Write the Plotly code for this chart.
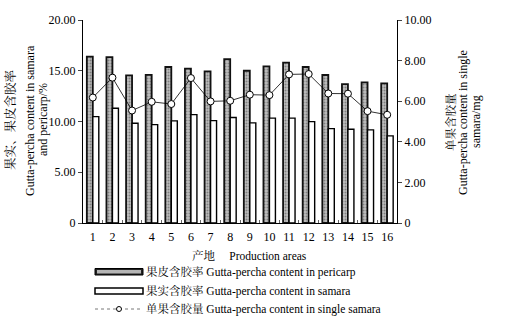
import plotly.graph_objects as go

areas = [str(i) for i in range(1, 17)]
pericarp = [16.40, 16.35, 14.55, 14.60, 15.37, 15.20, 14.93, 16.15, 15.00, 15.43, 15.80, 15.37, 14.58, 13.69, 13.85, 13.75]
samara = [10.48, 11.30, 9.83, 9.69, 10.06, 10.68, 10.09, 10.39, 9.86, 10.33, 10.33, 9.99, 9.30, 9.24, 9.17, 8.58]
single = [6.18, 7.16, 5.54, 5.97, 5.86, 7.14, 5.99, 6.02, 6.32, 6.30, 7.32, 7.34, 6.38, 6.37, 5.51, 5.33]

left_ticks = [0, 5, 10, 15, 20]
left_ticktext = ["0", "5.00", "10.00", "15.00", "20.00"]
right_ticks = [0, 2, 4, 6, 8, 10]
right_ticktext = ["0", "2.00", "4.00", "6.00", "8.00", "10.00"]

legend_labels = ["果皮含胶率 Gutta-percha content in pericarp",
                 "果实含胶率 Gutta-percha content in samara",
                 "单果含胶量 Gutta-percha content in single samara"]

FONT = "Liberation Serif, Noto Serif CJK SC, Noto Sans CJK SC, serif"
L, R, T, B, W, H = 83, 111, 20, 105, 508, 328
PW, PH = W - L - R, H - T - B

def px(x):
    return (x - L) / PW

def py(y):
    return (H - B - y) / PH

fig = go.Figure()
fig.add_trace(go.Bar(x=areas, y=pericarp, name=legend_labels[0],
                     marker=dict(color="#bdbdbd", line=dict(color="#111111", width=1.8),
                                 pattern=dict(shape=".", fgcolor="#444444", size=3, solidity=0.35)),
                     showlegend=False))
fig.add_trace(go.Bar(x=areas, y=samara, name=legend_labels[1],
                     marker=dict(color="white", line=dict(color="black", width=1.4)),
                     showlegend=False))
fig.add_trace(go.Scatter(x=areas, y=single, name=legend_labels[2], yaxis="y2",
                         mode="lines+markers",
                         line=dict(color="black", width=0.8),
                         marker=dict(symbol="circle", size=7, color="white",
                                     line=dict(color="black", width=1)),
                         showlegend=False))

shapes = []
annotations = []
# legend
rows = [272, 291, 309]
shapes.append(dict(type="rect", xref="paper", yref="paper", x0=px(95), x1=px(143),
                   y0=py(275), y1=py(268.5), fillcolor="#222222", line=dict(color="black", width=1)))
shapes.append(dict(type="rect", xref="paper", yref="paper", x0=px(97), x1=px(141),
                   y0=py(273.5), y1=py(270), fillcolor="#b5b5b5", line=dict(width=0)))
shapes.append(dict(type="rect", xref="paper", yref="paper", x0=px(95), x1=px(143),
                   y0=py(294), y1=py(288), fillcolor="white", line=dict(color="black", width=1.5)))
shapes.append(dict(type="line", xref="paper", yref="paper", x0=px(95), x1=px(143),
                   y0=py(309), y1=py(309), line=dict(color="#555555", width=0.8, dash="dot")))
shapes.append(dict(type="circle", xref="paper", yref="paper", x0=px(116.5), x1=px(121.5),
                   y0=py(311.5), y1=py(306.5), fillcolor="white", line=dict(color="black", width=1)))
for r, lab in zip(rows, legend_labels):
    annotations.append(dict(text=lab, xref="paper", yref="paper", x=px(144), y=py(r),
                            xanchor="left", yanchor="middle", showarrow=False,
                            font=dict(family=FONT, size=11.5, color="black")))

annotations.append(dict(text="产地     Production areas", xref="paper", yref="paper",
                        x=px(249), y=py(255), xanchor="center", yanchor="middle", showarrow=False,
                        font=dict(family=FONT, size=11.5, color="black")))

def vtext(text, x, y, size):
    annotations.append(dict(text=text, xref="paper", yref="paper", x=px(x), y=py(y),
                            textangle=-90, xanchor="center", yanchor="middle", showarrow=False,
                            font=dict(family=FONT, size=size, color="black")))

vtext("果实、果皮含胶率", 11, 120, 12.5)
vtext("Gutta-percha content in samara", 30, 121, 12)
vtext("and pericarp/%", 43, 120, 12)
vtext("单果含胶量", 450, 122, 11.5)
vtext("Gutta-percha content in single", 463, 123, 12)
vtext("samara/mg", 476, 122, 12)

fig.update_layout(
    width=W, height=H, margin=dict(l=L, r=R, t=T, b=B, autoexpand=False),
    paper_bgcolor="white", plot_bgcolor="white",
    barmode="group", bargap=0.39, bargroupgap=0.0,
    font=dict(family=FONT, size=12, color="black"),
    shapes=shapes, annotations=annotations,
    xaxis=dict(type="category", range=[-0.5, 15.5], showline=True, linecolor="black", linewidth=1,
               ticks="inside", ticklen=3, tickcolor="#666666", tickson="boundaries",
               tickangle=0, automargin=False, ticklabelstandoff=3,
               showgrid=False, tickfont=dict(family=FONT, size=12)),
    yaxis=dict(range=[0, 20], tickvals=left_ticks, ticktext=left_ticktext, automargin=False,
               showline=True, linecolor="black", linewidth=1, ticks="outside", ticklen=4,
               showgrid=False, zeroline=False, tickfont=dict(family=FONT, size=12)),
    yaxis2=dict(range=[0, 10], tickvals=right_ticks, ticktext=right_ticktext, automargin=False,
                overlaying="y", side="right", showline=True, linecolor="black", linewidth=1,
                ticks="outside", ticklen=4, showgrid=False, zeroline=False,
                tickfont=dict(family=FONT, size=12)),
)

fig.write_html("out.html", config={"displayModeBar": False},
               post_script="document.body.style.margin='0';document.body.style.overflow='hidden';")
